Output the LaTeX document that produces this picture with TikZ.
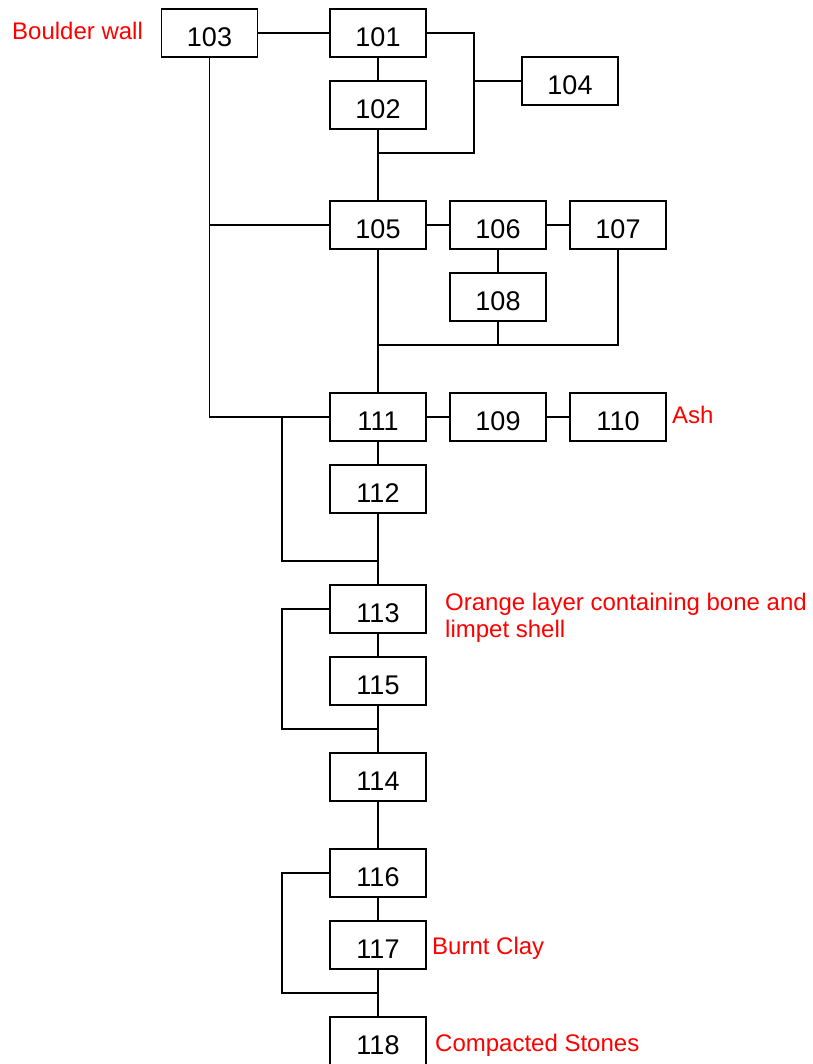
\documentclass[tikz,border=0pt]{standalone}
\usepackage{fontspec}
\setmainfont{Liberation Sans}
\begin{document}
\begin{tikzpicture}[x=1pt,y=-1pt,
  unit/.style={draw=black, line width=1.8pt, minimum width=96pt, minimum height=48pt,
    inner sep=0pt, font=\fontsize{27}{27}\selectfont, text height=27pt, text depth=0pt},
  note/.style={text=red, anchor=base west, inner sep=0pt, font=\fontsize{24}{27}\selectfont},
  link/.style={line width=1.8pt}]
\useasboundingbox (0,0) rectangle (812,1064);
\clip (0,0) rectangle (812,1064);

% context units
\node[unit] (u103) at (209.5,33) {103};
\node[unit] (u101) at (378,33) {101};
\node[unit] (u102) at (378,105) {102};
\node[unit] (u104) at (570,81) {104};
\node[unit] (u105) at (378,225) {105};
\node[unit] (u106) at (498,225) {106};
\node[unit] (u107) at (618,225) {107};
\node[unit] (u108) at (498,297) {108};
\node[unit] (u111) at (378,417) {111};
\node[unit] (u109) at (498,417) {109};
\node[unit] (u110) at (618,417) {110};
\node[unit] (u112) at (378,489) {112};
\node[unit] (u113) at (378,609) {113};
\node[unit] (u115) at (378,681) {115};
\node[unit] (u114) at (378,777) {114};
\node[unit] (u116) at (378,873) {116};
\node[unit] (u117) at (378,945) {117};
\node[unit] (u118) at (378,1041) {118};

% descriptions (multi-line notes sit on the baseline of their last line)
\node[note] (n103) at (12,40) {Boulder wall};
\node[note] (n110) at (672,423) {Ash};
\node[note, align=left] (n113) at (445,637) {Orange layer containing bone and\\limpet shell};
\node[note] (n117) at (432,954) {Burnt Clay};
\node[note] (n118) at (435,1051) {Compacted Stones};

% junction points
\coordinate (j1) at (474,33);
\coordinate (j2) at (474,153);
\coordinate (j3) at (378,153);
\coordinate (j4) at (474,81);
\coordinate (j5) at (209.5,225);
\coordinate (j6) at (209.5,417);
\coordinate (j7) at (378,345);
\coordinate (j8) at (498,345);
\coordinate (j9) at (618,345);
\coordinate (k1) at (282,417);
\coordinate (k2) at (282,561);
\coordinate (k3) at (378,561);
\coordinate (m1) at (282,609);
\coordinate (m2) at (282,729);
\coordinate (m3) at (378,729);
\coordinate (p1) at (282,873);
\coordinate (p2) at (282,993);
\coordinate (p3) at (378,993);

% stratigraphic relations
\draw[link] (u103.east) -- (u101.west);
\draw[link] (u101.south) -- (u102.north);
\draw[link] (u101.east) -- (j1) -- (j2) -- (j3);
\draw[link] (j4) -- (u104.west);
\draw[link] (u102.south) -- (u105.north);
\draw[link] (u103.south) -- (j6) -- (u111.west);
\draw[link] (j5) -- (u105.west);
\draw[link] (u105.east) -- (u106.west);
\draw[link] (u106.east) -- (u107.west);
\draw[link] (u106.south) -- (u108.north);
\draw[link] (u105.south) -- (u111.north);
\draw[link] (u108.south) -- (j8);
\draw[link] (u107.south) -- (j9) -- (j7);
\draw[link] (u111.east) -- (u109.west);
\draw[link] (u109.east) -- (u110.west);
\draw[link] (u111.south) -- (u112.north);
\draw[link] (u112.south) -- (u113.north);
\draw[link] (k1) -- (k2) -- (k3);
\draw[link] (u113.south) -- (u115.north);
\draw[link] (u113.west) -- (m1) -- (m2) -- (m3);
\draw[link] (u115.south) -- (u114.north);
\draw[link] (u114.south) -- (u116.north);
\draw[link] (u116.south) -- (u117.north);
\draw[link] (u116.west) -- (p1) -- (p2) -- (p3);
\draw[link] (u117.south) -- (u118.north);
\end{tikzpicture}
\end{document}
